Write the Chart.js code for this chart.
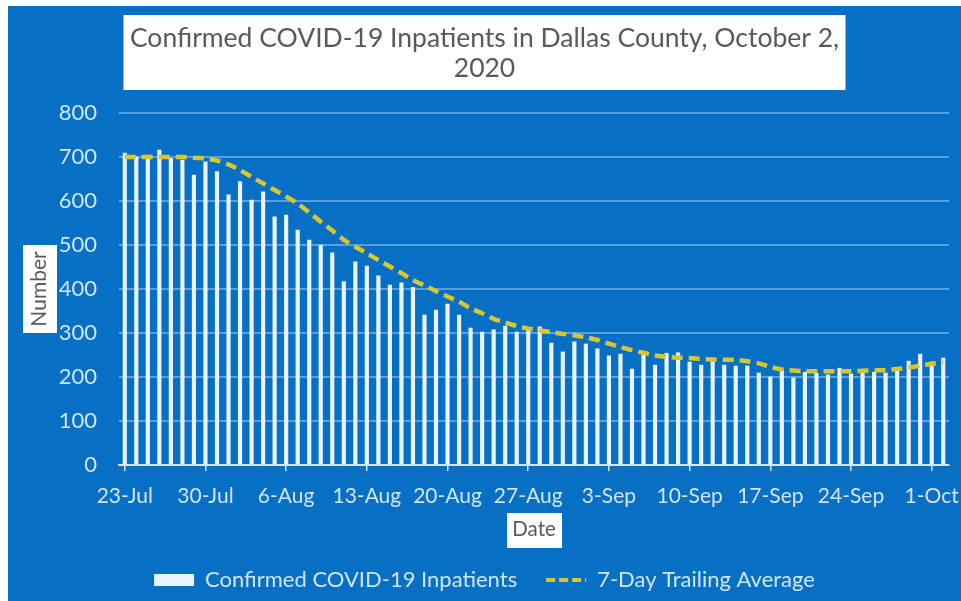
<!DOCTYPE html>
<html>
<head>
<meta charset="utf-8">
<script src="https://cdn.jsdelivr.net/npm/chart.js@4/dist/chart.umd.min.js"></script>
<style>
  html, body { margin: 0; padding: 0; background: #fff; }
  #wrap { position: absolute; left: 0; top: 0; width: 961px; height: 601px; }
</style>
</head>
<body>
<div id="wrap"><canvas id="chart" width="961" height="601"></canvas></div>
<script>
// one entry per day, 23-Jul .. 2-Oct 2020
const dates = [
  '23-Jul', '24-Jul', '25-Jul', '26-Jul', '27-Jul', '28-Jul', '29-Jul',
  '30-Jul', '31-Jul', '1-Aug', '2-Aug', '3-Aug', '4-Aug', '5-Aug',
  '6-Aug', '7-Aug', '8-Aug', '9-Aug', '10-Aug', '11-Aug', '12-Aug',
  '13-Aug', '14-Aug', '15-Aug', '16-Aug', '17-Aug', '18-Aug', '19-Aug',
  '20-Aug', '21-Aug', '22-Aug', '23-Aug', '24-Aug', '25-Aug', '26-Aug',
  '27-Aug', '28-Aug', '29-Aug', '30-Aug', '31-Aug', '1-Sep', '2-Sep',
  '3-Sep', '4-Sep', '5-Sep', '6-Sep', '7-Sep', '8-Sep', '9-Sep',
  '10-Sep', '11-Sep', '12-Sep', '13-Sep', '14-Sep', '15-Sep', '16-Sep',
  '17-Sep', '18-Sep', '19-Sep', '20-Sep', '21-Sep', '22-Sep', '23-Sep',
  '24-Sep', '25-Sep', '26-Sep', '27-Sep', '28-Sep', '29-Sep', '30-Sep',
  '1-Oct', '2-Oct',
];

const inpatients = [
  709, 700, 700, 716, 697, 693, 659,
  689, 667, 614, 644, 602, 621, 564,
  568, 534, 511, 500, 482, 417, 462,
  452, 430, 409, 414, 404, 341, 352,
  366, 341, 311, 302, 307, 316, 302,
  305, 314, 277, 257, 280, 275, 264,
  248, 252, 218, 250, 227, 254, 255,
  234, 227, 239, 227, 225, 225, 209,
  200, 216, 198, 211, 209, 205, 220,
  207, 211, 211, 209, 220, 236, 252,
  234, 243,
];

const trailingAvg = [
  700, 700, 700, 700, 700, 700, 698,
  697, 692, 683, 670, 655, 640, 625,
  610, 594, 574, 553, 533, 512, 496,
  481, 466, 451, 436, 420, 408, 395,
  383, 371, 356, 345, 332, 324, 316,
  310, 306, 302, 298, 295, 290, 284,
  276, 268, 261, 255, 249, 246, 244,
  243, 241, 240, 239, 239, 236, 231,
  223, 217, 215, 213, 213, 213, 213,
  213, 214, 215, 216, 218, 221, 226,
  230, 234,
];

const BLUE = '#0870c4';
const GRID = '#55a0e2';
const LIGHT = '#d2e5f7';
const DARK = '#595959';
const LINE = '#d9c62c';
const FONT = 'Lato';

// white frame strip, blue panel, and the white boxes behind the titles
const backdrop = {
  id: 'backdrop',
  beforeDraw(chart) {
    const { ctx } = chart;
    ctx.save();
    ctx.fillStyle = '#ffffff';
    ctx.fillRect(0, 0, chart.width, chart.height);
    ctx.fillStyle = BLUE;
    ctx.fillRect(8, 6, chart.width - 8, chart.height - 6);

    ctx.fillStyle = '#ffffff';
    const t = chart.titleBlock;
    const tcx = (t.left + t.right) / 2;
    ctx.fillRect(tcx - 361, t.top - 8, 722, 75);

    const ys = chart.scales.y;
    const ycx = ys.left + 21 + 11;
    const ycy = (ys.top + ys.bottom) / 2;
    ctx.fillRect(ycx - 17, ycy - 44, 34, 88);

    const xs = chart.scales.x;
    const xcx = (xs.left + xs.right) / 2;
    const xcy = xs.bottom - 10;
    ctx.fillRect(xcx - 27, xcy - 17, 55, 35);
    ctx.restore();
  },
};

new Chart(document.getElementById('chart'), {
  type: 'bar',
  data: {
    labels: dates,
    datasets: [
      {
        label: 'Confirmed COVID-19 Inpatients',
        data: inpatients,
        backgroundColor: '#eaf4fe',
        barThickness: 3.5,
        pointStyle: 'rect',
        order: 2,
      },
      {
        type: 'line',
        label: '7-Day Trailing Average',
        data: trailingAvg,
        borderColor: LINE,
        backgroundColor: LINE,
        borderWidth: 4.5,
        borderDash: [11, 6],
        pointRadius: 0,
        pointStyle: 'line',
        tension: 0.3,
        order: 1,
      },
    ],
  },
  options: {
    responsive: false,
    animation: false,
    layout: { padding: { left: 8, right: 0, top: 23, bottom: 0 } },
    plugins: {
      title: {
        display: true,
        text: ['Confirmed COVID-19 Inpatients in Dallas County, October 2,', '2020'],
        color: DARK,
        font: { family: FONT, size: 26.5, weight: 'normal', lineHeight: 1.132 },
        padding: { top: 0, bottom: 30 },
      },
      legend: {
        position: 'bottom',
        labels: {
          color: LIGHT,
          font: { family: FONT, size: 22 },
          usePointStyle: true,
          pointStyleWidth: 40,
          boxHeight: 12,
          padding: 29,
          sort: (a, b) => a.datasetIndex - b.datasetIndex,
          generateLabels: (chart) =>
            Chart.defaults.plugins.legend.labels.generateLabels(chart).map((item) =>
              item.datasetIndex === 1 ? { ...item, lineDash: [9, 4], lineWidth: 4 } : item
            ),
        },
      },
      tooltip: { enabled: false },
    },
    scales: {
      x: {
        offset: true,
        grid: {
          offset: false,
          drawOnChartArea: false,
          tickLength: 6,
          lineWidth: 1.5,
          color: (c) => (c.index % 7 === 0 ? LIGHT : 'rgba(0,0,0,0)'),
        },
        border: { display: true, color: LIGHT, width: 2 },
        ticks: {
          color: LIGHT,
          font: { family: FONT, size: 21 },
          autoSkip: false,
          maxRotation: 0,
          padding: 13,
          callback: (v, i) => (i % 7 === 0 ? dates[i] : ''),
        },
        title: {
          display: true,
          text: 'Date',
          color: DARK,
          font: { family: FONT, size: 20.5, lineHeight: 1 },
          padding: { top: 0, bottom: 0 },
        },
        afterFit: (s) => { s.height = 75; },
      },
      y: {
        min: 0,
        max: 800,
        ticks: {
          stepSize: 100,
          color: LIGHT,
          font: { family: FONT, size: 22 },
          padding: 22,
        },
        grid: { color: GRID, lineWidth: 2, drawTicks: false },
        border: { display: false },
        title: {
          display: true,
          text: 'Number',
          color: DARK,
          font: { family: FONT, size: 21 },
          padding: { top: 19, bottom: 0 },
        },
        afterFit: (s) => { s.width = 111; },
      },
      y2: {
        position: 'right',
        display: true,
        grid: { display: false },
        border: { display: false },
        ticks: { display: false },
        afterFit: (s) => { s.width = 12; },
      },
    },
  },
  plugins: [backdrop],
});
</script>
</body>
</html>
